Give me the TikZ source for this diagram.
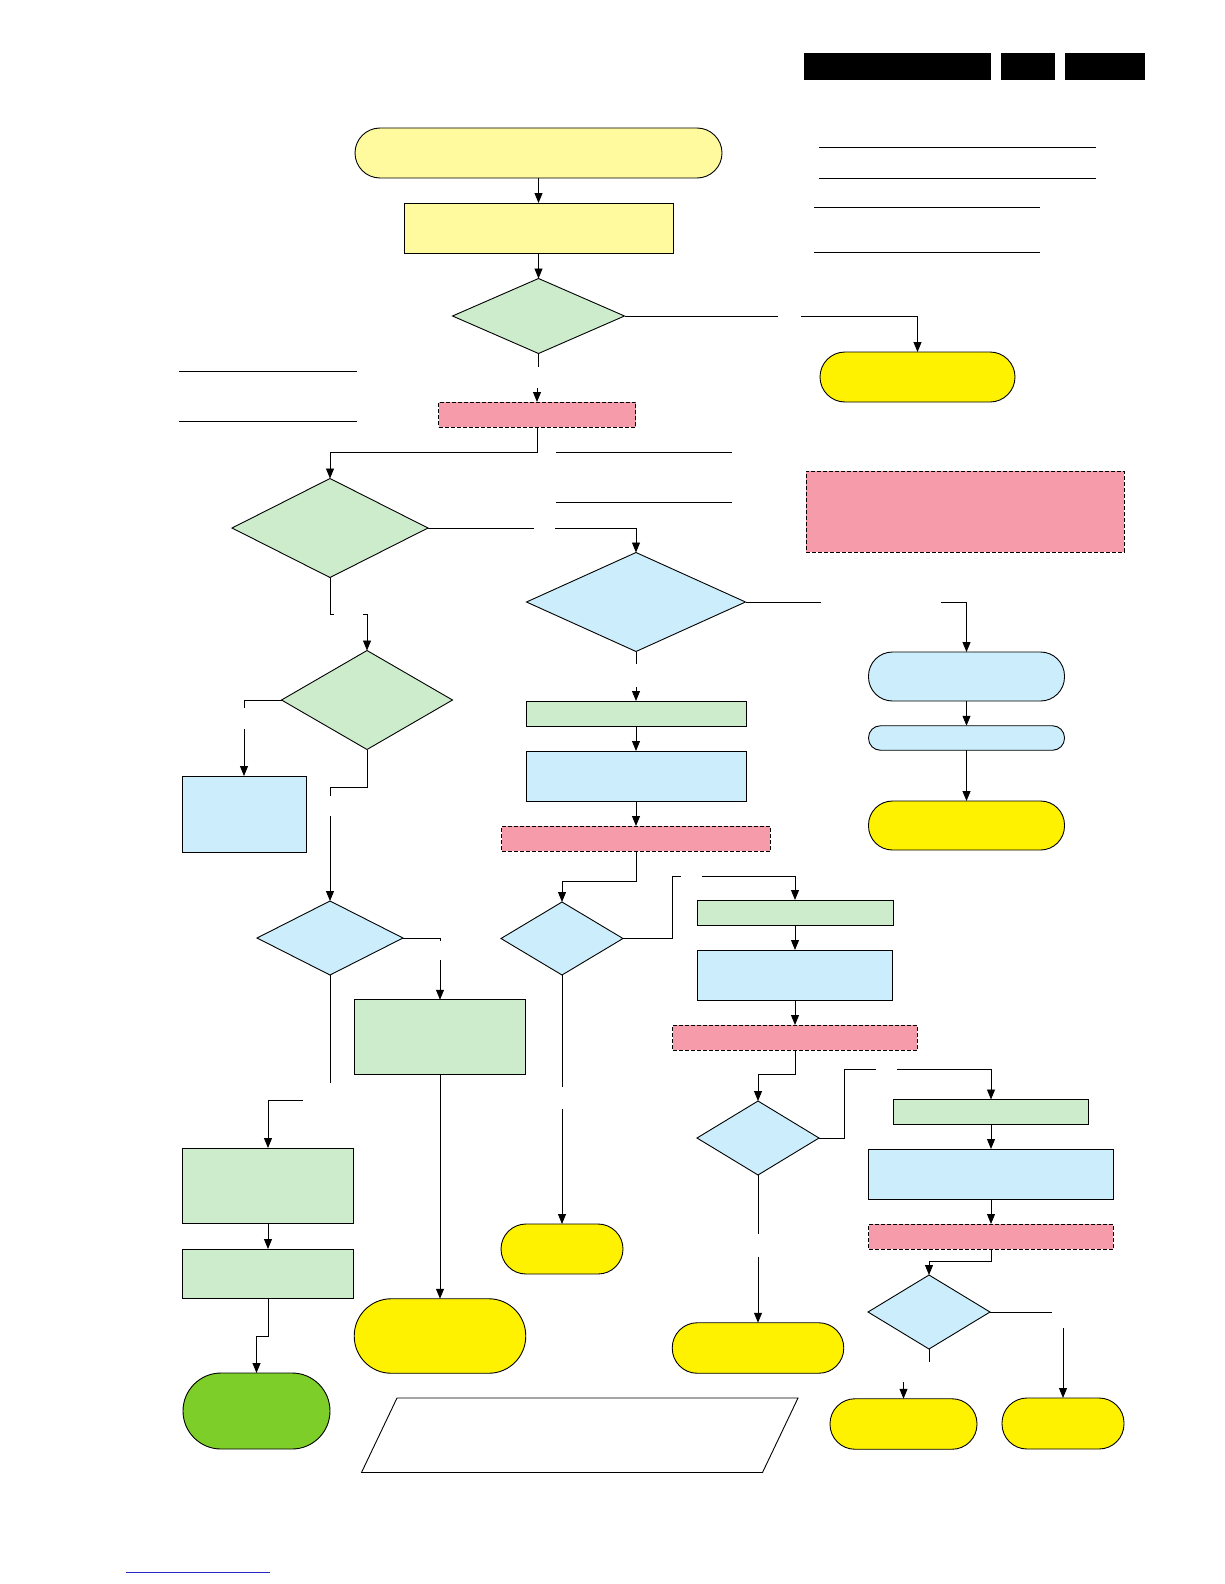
\documentclass[tikz,border=0pt]{standalone}
\usetikzlibrary{arrows.meta,shapes.geometric}
\definecolor{lyellow}{RGB}{255,250,158}
\definecolor{lgreen}{RGB}{204,236,204}
\definecolor{lblue}{RGB}{204,238,252}
\definecolor{lpink}{RGB}{245,155,170}
\definecolor{yel}{RGB}{255,242,0}
\definecolor{dgreen}{RGB}{126,206,42}
\definecolor{linkblue}{RGB}{40,40,200}
\tikzset{
  base/.style={draw=black, line width=0.9pt, inner sep=0pt, outer sep=0pt},
  rbox/.style={base, rectangle},
  pbox/.style={rectangle, fill=lpink, draw=black, line width=0.9pt, dash pattern=on 4pt off 2pt, inner sep=0pt, outer sep=0pt},
  dia/.style={base, diamond},
  term/.style={base, rectangle},
  arr/.style={line width=0.9pt, -{Triangle[length=10pt,width=8pt]}},
  ln/.style={line width=0.9pt},
  uline/.style={line width=1pt},
}
\begin{document}
\begin{tikzpicture}[x=1pt,y=-1pt]
\useasboundingbox (0,0) rectangle (1224,1584);
% header bars
\fill[black] (804,53) rectangle (991,80);
\fill[black] (1001,53) rectangle (1055,80);
\fill[black] (1065,53) rectangle (1145,80);
% text underlines
\draw[uline] (819,147) -- (1096,147);
\draw[uline] (819,178) -- (1096,178);
\draw[uline] (814,207) -- (1040,207);
\draw[uline] (814,252) -- (1040,252);
\draw[uline] (179,371) -- (357,371);
\draw[uline] (179,421) -- (357,421);
\draw[uline] (556,452) -- (732,452);
\draw[uline] (556,502) -- (732,502);
\draw[line width=1pt, linkblue] (126,1572.5) -- (270,1572.5);

% nodes
\node[term, fill=lyellow, minimum width=367pt, minimum height=50pt, rounded corners=25pt] (start) at (538.5,153) {};
\node[rbox, fill=lyellow, minimum width=269pt, minimum height=50pt] (r1) at (538.5,228) {};
\node[dia, fill=lgreen, minimum width=172pt, minimum height=75pt] (d1) at (538.5,316) {};
\node[term, fill=yel, minimum width=195pt, minimum height=50pt, rounded corners=25pt] (t1) at (917.5,377) {};
\node[pbox, minimum width=197pt, minimum height=25pt] (p1) at (537,414.5) {};
\node[pbox, minimum width=318pt, minimum height=81pt] (S) at (965,511.5) {};
\node[dia, fill=lgreen, minimum width=196pt, minimum height=99pt] (d2) at (330,528) {};
\node[dia, fill=lblue, minimum width=219pt, minimum height=99pt] (d3) at (636,602) {};
\node[dia, fill=lgreen, minimum width=171pt, minimum height=99pt] (d4) at (367,700) {};
\node[rbox, fill=lblue, minimum width=124pt, minimum height=76pt] (bx1) at (244,814) {};
\node[dia, fill=lblue, minimum width=146pt, minimum height=74pt] (d5) at (330,938) {};
\node[rbox, fill=lgreen, minimum width=171.5pt, minimum height=74.5pt] (g1) at (440,1037) {};
\node[term, fill=yel, minimum width=171.5pt, minimum height=74.5pt, rounded corners=37pt] (t2) at (440,1336) {};
\node[rbox, fill=lgreen, minimum width=170.5pt, minimum height=75pt] (gA) at (268,1185.5) {};
\node[rbox, fill=lgreen, minimum width=170.5pt, minimum height=49pt] (gB) at (268,1273.5) {};
\node[term, fill=dgreen, minimum width=147pt, minimum height=76pt, rounded corners=38pt] (tG) at (256.5,1411) {};
\node[rbox, fill=lgreen, minimum width=220pt, minimum height=25pt] (C) at (636,713.5) {};
\node[rbox, fill=lblue, minimum width=220pt, minimum height=50pt] (D) at (636,776) {};
\node[pbox, minimum width=268.5pt, minimum height=25pt] (E) at (636,838.5) {};
\node[dia, fill=lblue, minimum width=122pt, minimum height=73pt] (d6) at (562,938.5) {};
\node[rbox, fill=lgreen, minimum width=196pt, minimum height=25pt] (F) at (795,912.5) {};
\node[rbox, fill=lblue, minimum width=195pt, minimum height=50pt] (G) at (795,975) {};
\node[pbox, minimum width=244.5pt, minimum height=25pt] (H) at (795,1037.5) {};
\node[term, fill=yel, minimum width=122pt, minimum height=50pt, rounded corners=25pt] (tI) at (562,1249) {};
\node[dia, fill=lblue, minimum width=122pt, minimum height=74pt] (d7) at (758,1138) {};
\node[rbox, fill=lgreen, minimum width=195pt, minimum height=25pt] (J) at (991,1112) {};
\node[rbox, fill=lblue, minimum width=244.5pt, minimum height=50pt] (K) at (991,1174) {};
\node[pbox, minimum width=244.5pt, minimum height=25pt] (L) at (991,1236.5) {};
\node[dia, fill=lblue, minimum width=122pt, minimum height=74pt] (d8) at (929,1312) {};
\node[term, fill=yel, minimum width=147pt, minimum height=50.5pt, rounded corners=25pt] (M) at (903.5,1424) {};
\node[term, fill=yel, minimum width=122pt, minimum height=51pt, rounded corners=25pt] (N) at (1063,1423.5) {};
\node[term, fill=yel, minimum width=171.5pt, minimum height=50.5pt, rounded corners=25pt] (O) at (758,1348) {};
\node[term, fill=lblue, minimum width=196pt, minimum height=49pt, rounded corners=24pt] (P) at (966.5,676.5) {};
\node[term, fill=lblue, minimum width=196pt, minimum height=24.5pt, rounded corners=12pt] (Q) at (966.5,738) {};
\node[term, fill=yel, minimum width=196pt, minimum height=49pt, rounded corners=24pt] (R) at (966.5,825.5) {};

% parallelogram
\draw[line width=0.9pt] (397,1398) -- (798,1398) -- (762.5,1472.5) -- (361.5,1472.5) -- cycle;

% connector coordinates (gaps where labels were)
\coordinate (d1s) at (538.5,367);
\coordinate (d1s2) at (537,388);
\coordinate (d1e) at (778,316);
\coordinate (d1e2) at (801,316);
\coordinate (p1j) at (537,452);
\coordinate (d2e) at (534,528);
\coordinate (d2e2) at (555,528);
\coordinate (d2s) at (330,614);
\coordinate (d2s1) at (334,614);
\coordinate (d2s2) at (363,614);
\coordinate (d4w) at (244,708);
\coordinate (d4w2) at (244,729);
\coordinate (d4s) at (367,787);
\coordinate (d4s1) at (330,787);
\coordinate (d4s2) at (330,796);
\coordinate (d4s3) at (330,816);
\coordinate (d5e) at (440,938);
\coordinate (d5e1) at (440,941);
\coordinate (d5e2) at (440,960);
\coordinate (d5s) at (330,1083);
\coordinate (d5s2) at (303,1100);
\coordinate (gBj) at (268,1336);
\coordinate (d3s) at (636,663.5);
\coordinate (d3s2) at (636,687);
\coordinate (Ej) at (636,881);
\coordinate (d6e) at (672,876);
\coordinate (d6e1) at (681,876);
\coordinate (d6e2) at (702,876);
\coordinate (d6s) at (562,1087);
\coordinate (d6s2) at (562,1109);
\coordinate (Hj) at (795,1074);
\coordinate (d7e) at (844,1069);
\coordinate (d7e1) at (876,1069);
\coordinate (d7e2) at (897,1069);
\coordinate (d7s) at (758,1234);
\coordinate (d7s2) at (758,1257);
\coordinate (Lj) at (991,1261);
\coordinate (d8e) at (1052,1312);
\coordinate (d8e2) at (1063,1328);
\coordinate (d8s) at (929,1362);
\coordinate (d8s2) at (903.5,1382);
\coordinate (d3e) at (821,602);
\coordinate (d3e2) at (941,602);

% connectors
\draw[arr] (start.south) -- (r1.north);
\draw[arr] (r1.south) -- (d1.north);
\draw[ln] (d1.south) -- (d1s);
\draw[arr] (d1s2) -- (p1.north);
\draw[ln] (d1.east) -- (d1e);
\draw[arr] (d1e2) -| (t1.north);
\draw[arr] (p1.south) -- (p1j) -| (d2.north);
\draw[ln] (d2.east) -- (d2e);
\draw[arr] (d2e2) -| (d3.north);
\draw[ln] (d2.south) -- (d2s) -- (d2s1);
\draw[arr] (d2s2) -| (d4.north);
\draw[ln] (d4.west) -| (d4w);
\draw[arr] (d4w2) -- (bx1.north);
\draw[ln] (d4.south) -- (d4s) -- (d4s1) -- (d4s2);
\draw[arr] (d4s3) -- (d5.north);
\draw[ln] (d5.east) -- (d5e) -- (d5e1);
\draw[arr] (d5e2) -- (g1.north);
\draw[arr] (g1.south) -- (t2.north);
\draw[ln] (d5.south) -- (d5s);
\draw[arr] (d5s2) -| (gA.north);
\draw[arr] (gA.south) -- (gB.north);
\draw[arr] (gB.south) -- (gBj) -| (tG.north);
\draw[ln] (d3.south) -- (d3s);
\draw[arr] (d3s2) -- (C.north);
\draw[arr] (C.south) -- (D.north);
\draw[arr] (D.south) -- (E.north);
\draw[arr] (E.south) -- (Ej) -| (d6.north);
\draw[ln] (d6.east) -| (d6e) -- (d6e1);
\draw[arr] (d6e2) -| (F.north);
\draw[arr] (F.south) -- (G.north);
\draw[arr] (G.south) -- (H.north);
\draw[ln] (d6.south) -- (d6s);
\draw[arr] (d6s2) -- (tI.north);
\draw[arr] (H.south) -- (Hj) -| (d7.north);
\draw[ln] (d7.east) -| (d7e) -- (d7e1);
\draw[arr] (d7e2) -| (J.north);
\draw[arr] (J.south) -- (K.north);
\draw[arr] (K.south) -- (L.north);
\draw[arr] (L.south) -- (Lj) -| (d8.north);
\draw[ln] (d8.east) -- (d8e);
\draw[arr] (d8e2) -- (N.north);
\draw[ln] (d8.south) -- (d8s);
\draw[arr] (d8s2) -- (M.north);
\draw[ln] (d7.south) -- (d7s);
\draw[arr] (d7s2) -- (O.north);
\draw[ln] (d3.east) -- (d3e);
\draw[arr] (d3e2) -| (P.north);
\draw[arr] (P.south) -- (Q.north);
\draw[arr] (Q.south) -- (R.north);
\end{tikzpicture}
\end{document}
